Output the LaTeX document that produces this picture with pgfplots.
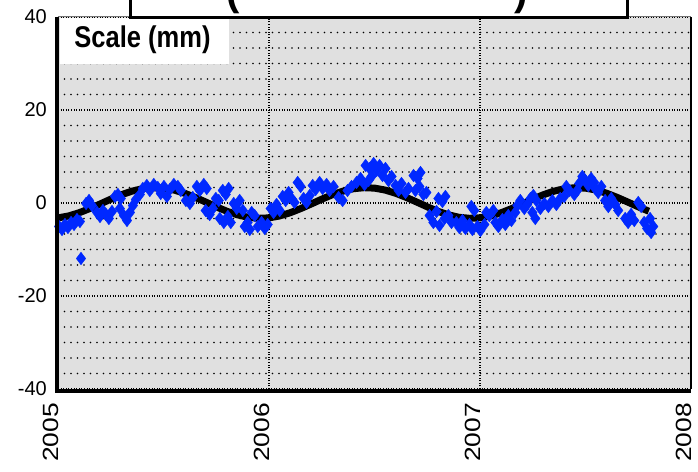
\documentclass[border=0pt]{standalone}
\usepackage{pgfplots}
\pgfplotsset{compat=1.18}
\usepackage{fontspec}
\setmainfont{Liberation Sans}
\newfontfamily\xlabfont{Liberation Sans}[FakeStretch=1.2]
\newfontfamily\legfont{Liberation Sans}[FakeStretch=0.85]
\definecolor{bgray}{RGB}{224,224,224}
\definecolor{dblue}{RGB}{0,40,255}
\begin{document}
\begin{tikzpicture}
\begin{axis}[name=ax,
  at={(58pt,82pt)}, anchor=south west,
  scale only axis, width=633pt, height=372pt,
  xmin=2005, xmax=2008, ymin=-40, ymax=40,
  xtick={2005,2006,2007,2008}, xticklabels={2005,2006,2007,2008},
  ytick={-40,-20,0,20,40}, yticklabels={-40,-20,0,20,40},
  minor y tick num=5,
  major tick length=0pt, minor tick length=0pt,
  axis line style={draw=none},
  axis background/.style={fill=bgray},
  grid=both,
  major grid style={black, line width=1.3pt, dash pattern=on 1pt off 1.6pt},
  minor grid style={black, line width=1.7pt, line cap=round, dash pattern=on 0pt off 6.5pt},
  xticklabel style={xshift=-7pt, rotate=90, anchor=east, inner sep=0pt, font=\xlabfont\fontsize{22}{22}\selectfont},
  yticklabel style={anchor=east, inner sep=0pt, font=\fontsize{20}{20}\selectfont},
  xticklabel shift=14pt, yticklabel shift=11pt,
]
\addplot[only marks, mark=diamond*, mark size=6.3pt, color=dblue,
  mark options={draw=dblue, fill=dblue}] coordinates {
(2005.005,-5.05)(2005.019,-5.70)(2005.033,-4.62)(2005.047,-5.27)(2005.062,-4.19)
(2005.076,-4.62)(2005.090,-3.55)(2005.104,-3.98)(2005.109,-11.94)(2005.133,-0.11)
(2005.147,0.54)(2005.161,-0.54)(2005.185,-2.04)(2005.199,-2.90)(2005.213,-1.61)
(2005.227,-2.47)(2005.241,-3.33)(2005.256,-1.83)(2005.270,1.40)(2005.284,1.83)
(2005.298,0.97)(2005.293,-1.18)(2005.312,-2.69)(2005.327,-3.76)(2005.341,-2.04)
(2005.355,-0.54)(2005.369,0.75)(2005.388,1.83)(2005.402,3.12)(2005.421,3.76)
(2005.435,2.69)(2005.454,3.98)(2005.473,3.33)(2005.487,2.04)(2005.502,3.55)
(2005.516,1.40)(2005.530,2.90)(2005.549,3.98)(2005.568,3.55)(2005.582,2.69)
(2005.606,0.54)(2005.625,-0.11)(2005.639,1.18)(2005.658,3.55)(2005.672,2.69)
(2005.691,3.98)(2005.705,3.12)(2005.700,-1.61)(2005.719,-2.47)(2005.734,-1.18)
(2005.748,0.97)(2005.762,0.54)(2005.781,2.69)(2005.795,1.83)(2005.809,3.12)
(2005.767,-3.33)(2005.786,-4.19)(2005.805,-2.90)(2005.819,-4.19)(2005.833,-0.11)
(2005.847,-1.18)(2005.861,0.54)(2005.876,-1.61)(2005.885,-5.05)(2005.899,-4.19)
(2005.909,-5.70)(2005.918,-2.04)(2005.932,-2.69)(2005.947,-5.05)(2005.965,-4.19)
(2005.980,-5.48)(2005.994,-4.62)(2006.008,-1.18)(2006.022,-2.04)(2006.036,-0.32)
(2006.051,-1.61)(2006.065,1.40)(2006.079,0.54)(2006.093,2.26)(2006.107,0.97)
(2006.121,0.11)(2006.136,4.41)(2006.150,3.55)(2006.164,0.97)(2006.178,0.11)
(2006.193,1.61)(2006.207,3.76)(2006.221,2.90)(2006.240,4.41)(2006.254,3.12)
(2006.273,3.98)(2006.287,2.69)(2006.306,3.55)(2006.330,1.18)(2006.349,0.54)
(2006.372,2.69)(2006.391,3.55)(2006.415,4.41)(2006.434,5.27)(2006.453,3.98)
(2006.472,4.84)(2006.486,5.70)(2006.458,8.06)(2006.477,7.42)(2006.496,8.49)
(2006.510,6.99)(2006.524,8.06)(2006.538,5.91)(2006.552,7.42)(2006.566,4.84)
(2006.581,5.70)(2006.600,3.76)(2006.614,2.69)(2006.628,4.19)(2006.647,2.26)
(2006.661,3.12)(2006.685,5.91)(2006.704,5.27)(2006.718,6.56)(2006.694,2.69)
(2006.713,3.55)(2006.732,1.83)(2006.746,2.26)(2006.761,-2.69)(2006.779,-4.19)
(2006.794,-1.83)(2006.808,-4.84)(2006.803,0.97)(2006.822,0.32)(2006.836,1.40)
(2006.832,-3.33)(2006.850,-2.69)(2006.865,-4.19)(2006.888,-4.19)(2006.902,-5.27)
(2006.917,-3.76)(2006.931,-5.48)(2006.950,-4.62)(2006.964,-5.70)(2006.959,-0.75)
(2006.973,-1.61)(2006.988,-5.05)(2007.002,-5.91)(2007.021,-4.62)(2007.030,-2.04)
(2007.044,-2.69)(2007.063,-1.61)(2007.073,-4.19)(2007.087,-5.05)(2007.106,-3.55)
(2007.120,-4.62)(2007.134,-2.69)(2007.149,-3.76)(2007.167,-2.04)(2007.177,-0.54)
(2007.191,0.54)(2007.210,-1.18)(2007.224,-0.32)(2007.239,0.97)(2007.253,1.61)
(2007.267,0.54)(2007.248,-2.04)(2007.262,-3.33)(2007.286,-1.18)(2007.305,-0.11)
(2007.324,-0.75)(2007.343,0.54)(2007.362,-0.32)(2007.380,0.97)(2007.399,1.40)
(2007.409,3.55)(2007.423,2.69)(2007.447,1.83)(2007.461,2.69)(2007.470,4.19)
(2007.485,5.70)(2007.499,4.84)(2007.513,3.76)(2007.527,5.27)(2007.541,4.41)
(2007.546,3.12)(2007.560,2.26)(2007.575,3.55)(2007.593,0.54)(2007.608,-0.75)
(2007.622,0.97)(2007.641,-0.32)(2007.655,-1.61)(2007.688,-3.33)(2007.702,-4.19)
(2007.716,-2.47)(2007.731,-3.76)(2007.750,0.11)(2007.764,-0.75)(2007.778,-4.19)
(2007.792,-5.48)(2007.806,-3.33)(2007.821,-5.05)(2007.811,-6.34)
};
\addplot[black, line width=7pt, line join=round] coordinates {
(2005.00,-3.20)(2005.05,-2.79)(2005.10,-2.10)(2005.15,-1.21)(2005.20,-0.21)
(2005.25,0.82)(2005.30,1.77)(2005.35,2.54)(2005.40,3.07)(2005.45,3.29)
(2005.50,3.20)(2005.55,2.79)(2005.60,2.10)(2005.65,1.21)(2005.70,0.21)
(2005.75,-0.82)(2005.80,-1.77)(2005.85,-2.54)(2005.90,-3.07)(2005.95,-3.29)
(2006.00,-3.20)(2006.05,-2.79)(2006.10,-2.10)(2006.15,-1.21)(2006.20,-0.21)
(2006.25,0.82)(2006.30,1.77)(2006.35,2.54)(2006.40,3.07)(2006.45,3.29)
(2006.50,3.20)(2006.55,2.79)(2006.60,2.10)(2006.65,1.21)(2006.70,0.21)
(2006.75,-0.82)(2006.80,-1.77)(2006.85,-2.54)(2006.90,-3.07)(2006.95,-3.29)
(2007.00,-3.20)(2007.05,-2.79)(2007.10,-2.10)(2007.15,-1.21)(2007.20,-0.21)
(2007.25,0.82)(2007.30,1.77)(2007.35,2.54)(2007.40,3.07)(2007.45,3.29)
(2007.50,3.20)(2007.55,2.79)(2007.60,2.10)(2007.65,1.21)(2007.70,0.21)
(2007.75,-0.82)(2007.80,-1.77)
};
\end{axis}
% frame
\draw[black!55, line width=1pt] (ax.north west) -- (ax.north east);
\draw[black, line width=1.6pt] (ax.south east) -- (ax.north east);
\draw[black, line width=4.5pt] ([yshift=-2pt]ax.south west) -- ([yshift=-2pt]ax.south east);
\draw[black, line width=4pt] ([xshift=-1pt,yshift=-4pt]ax.south west) -- ([xshift=-1pt]ax.north west);
% label box
\fill[white] (59.5pt,407pt) rectangle (229pt,453pt);
\node[font=\legfont\fontsize{30}{30}\selectfont\bfseries, inner sep=0pt] at (142.5pt,431pt) {Scale (mm)};
% title box (top cut off)
\draw[black, line width=3pt, fill=white] (130pt,453pt) rectangle (627pt,490pt);
\node[font=\fontsize{40}{40}\selectfont\bfseries, inner sep=0pt, anchor=base] at (377pt,465.5pt) {(\hspace{274pt})};
\pgfresetboundingbox
\path[use as bounding box] (0pt,0pt) rectangle (698pt,471pt);
\end{tikzpicture}
\end{document}
